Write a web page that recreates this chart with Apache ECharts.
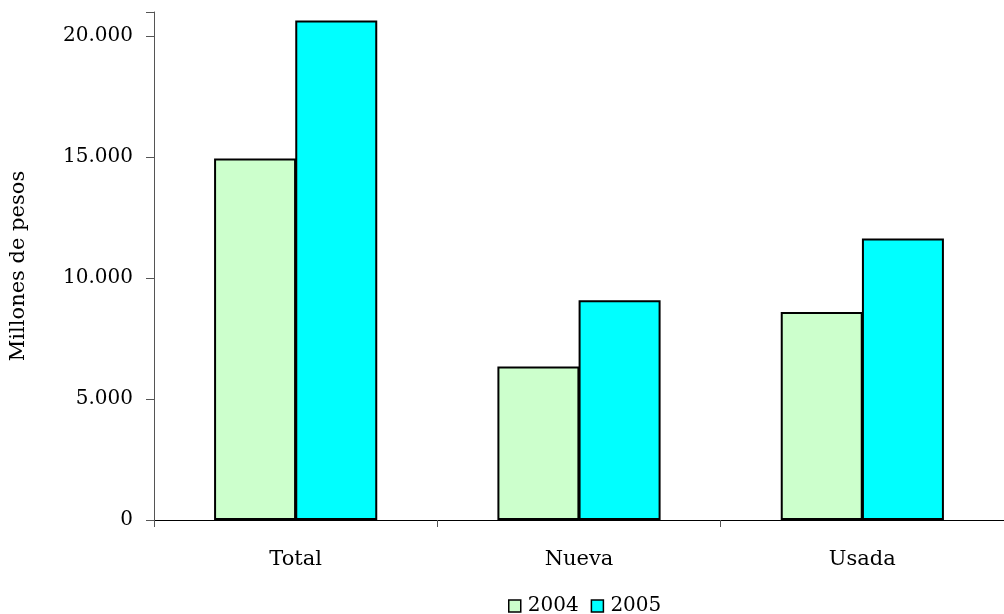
<!DOCTYPE html>
<html><head><meta charset="utf-8">
<script src="https://cdn.jsdelivr.net/npm/echarts@6/dist/echarts.min.js"></script>
<style>html,body{margin:0;padding:0;background:#fff}#c{width:1004px;height:614px}</style>
</head><body><div id="c"></div>
<script>
const categories = ['Total', 'Nueva', 'Usada'];
const seriesNames = ['2004', '2005'];
const values2004 = [14940, 6350, 8600];
const values2005 = [20650, 9080, 11640];
const yTicks = [0, 5000, 10000, 15000, 20000];

const font = 'DejaVu Serif';
const chart = echarts.init(document.getElementById('c'), null, {renderer: 'canvas'});
const fmt = v => v === 0 ? '0' : v.toLocaleString('de-DE');
chart.setOption({
  animation: false,
  backgroundColor: '#fff',
  grid: {left: 153, top: 12, width: 855, bottom: 94},
  legend: {
    left: 503, top: 591, itemWidth: 12, itemHeight: 12, itemGap: 12,
    icon: 'rect',
    textStyle: {fontFamily: font, fontSize: 20, color: '#000', padding: [0,0,0,2]},
    data: seriesNames.map(n => ({name: n, itemStyle: {borderColor: '#000', borderWidth: 1.5}}))
  },
  xAxis: {
    type: 'category', data: categories,
    axisLine: {lineStyle: {color: '#000', width: 1}},
    axisTick: {show: true, length: 7, lineStyle: {color: '#555'}},
    axisLabel: {fontFamily: font, fontSize: 21, color: '#000', margin: 29}
  },
  yAxis: {
    type: 'value', min: 0, max: 21000, interval: 5000,
    name: 'Millones de pesos', nameLocation: 'middle', nameGap: 125, nameRotate: 90,
    nameTextStyle: {fontFamily: font, fontSize: 21, color: '#000'},
    axisLine: {show: true, lineStyle: {color: '#555', width: 1}},
    axisTick: {show: true, length: 8, lineStyle: {color: '#555'}},
    splitLine: {show: false},
    axisLabel: {fontFamily: font, fontSize: 20, color: '#000', margin: 21,
      formatter: v => yTicks.includes(v) ? fmt(v) : ''}
  },
  series: [
    {name: seriesNames[0], type: 'bar', data: values2004, barWidth: 82, barGap: '-1%',
     itemStyle: {color: '#CCFFCC', borderColor: '#000', borderWidth: 2}},
    {name: seriesNames[1], type: 'bar', data: values2005, barWidth: 82, barGap: '-1%',
     itemStyle: {color: '#00FFFF', borderColor: '#000', borderWidth: 2}}
  ]
});
</script></body></html>
